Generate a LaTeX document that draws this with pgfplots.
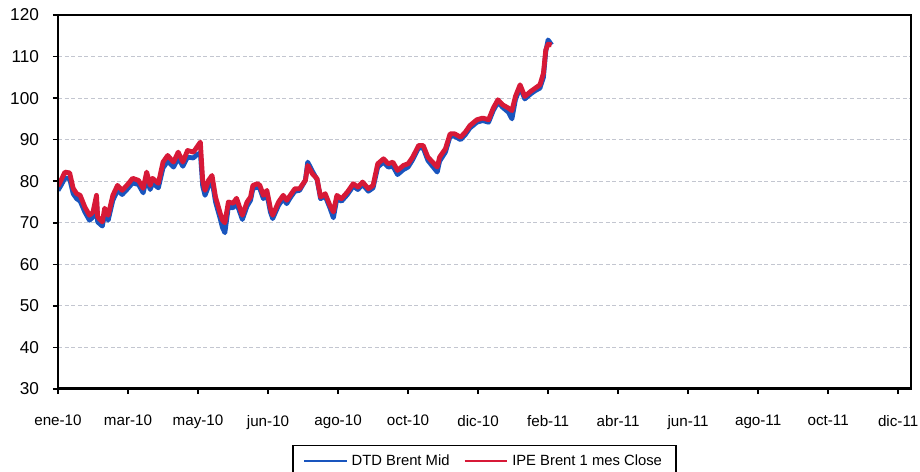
\documentclass[border=0pt]{standalone}
\usepackage{fontspec}
\setmainfont{Liberation Sans}
\usepackage{pgfplots}
\pgfplotsset{compat=1.18}
\definecolor{dtdblue}{RGB}{25,85,190}
\definecolor{ipered}{RGB}{215,25,55}
\definecolor{gridgray}{RGB}{195,198,208}

% days since 1 Jan 2010
\pgfplotstableread{
d v
0 77.8
3 79.2
6 80.8
10 80.6
13 77.0
16 75.8
19 75.2
23 72.6
27 70.6
30 71.4
33 75.2
34 70.2
38 69.2
40 72.4
43 70.6
47 75.4
51 77.8
55 76.8
59 78.0
64 79.6
69 79.2
73 77.2
76 80.8
79 78.0
81 79.6
86 78.4
90 83.2
94 84.8
99 83.4
103 85.6
107 83.6
111 85.8
116 85.6
119 86.4
122 86.8
124 78.8
126 76.6
129 78.8
132 80.2
135 75.0
139 71.0
141 68.8
143 67.6
146 73.8
150 73.6
153 74.8
158 70.8
162 74.0
165 75.4
167 78.2
171 78.6
173 78.2
176 75.8
179 77.0
182 72.6
184 71.0
189 74.2
193 75.8
196 74.6
199 76.0
203 77.6
207 77.8
212 80.2
214 84.6
218 82.4
222 80.4
225 75.8
229 76.4
233 73.6
236 71.2
239 75.8
243 75.2
248 76.8
253 78.8
257 78.0
261 79.2
266 77.6
270 78.4
274 83.4
279 84.6
283 83.4
287 83.6
291 81.6
296 82.8
300 83.4
304 85.2
309 88.0
313 88.0
317 85.0
321 83.6
325 82.2
327 84.8
332 87.0
336 90.8
340 90.8
345 90.0
349 91.2
353 92.8
359 94.2
364 94.6
369 94.2
373 97.0
377 99.0
381 97.8
386 96.6
389 95.0
392 99.6
396 102.6
400 99.8
405 101.0
409 101.8
413 102.4
416 105.0
418 111.2
420 114.0
423 112.8
}\dtd

\pgfplotstableread{
d v
0 78.8
3 80.5
6 82.2
10 82.0
13 78.3
16 77.0
19 76.6
23 73.8
27 71.8
30 72.6
33 76.6
34 71.4
38 70.2
40 73.5
43 71.8
47 76.6
51 79.0
55 77.8
59 79.0
64 80.7
69 80.2
73 78.3
76 82.2
79 79.0
81 80.7
86 79.5
90 84.6
94 86.2
99 84.6
103 87.0
107 84.6
111 87.4
116 87.0
119 88.2
122 89.4
124 80.2
126 77.8
129 80.2
132 81.4
135 76.2
139 72.3
141 70.6
143 70.0
146 75.0
150 74.7
153 75.9
158 71.8
162 75.0
165 76.2
167 79.0
171 79.4
173 79.0
176 76.6
179 77.8
182 73.5
184 71.8
189 75.0
193 76.6
196 75.4
199 76.6
203 78.2
207 78.2
212 80.2
214 83.8
218 81.8
222 80.6
225 76.2
229 77.0
233 74.2
236 72.6
239 76.6
243 75.8
248 77.4
253 79.4
257 78.6
261 79.8
266 78.2
270 79.0
274 84.2
279 85.4
283 84.2
287 84.6
291 82.6
296 83.8
300 84.2
304 85.8
309 88.6
313 88.6
317 85.8
321 84.6
325 83.4
327 85.8
332 87.8
336 91.4
340 91.4
345 90.6
349 91.8
353 93.4
359 94.8
364 95.2
369 94.8
373 97.6
377 99.6
381 98.4
386 97.6
389 97.0
392 100.4
396 103.2
400 100.4
405 101.6
409 102.4
413 103.2
416 106.0
418 111.6
420 113.0
423 112.8
}\ipe

\begin{document}
\begin{tikzpicture}
\begin{axis}[
    scale only axis,
    width=426.5pt,
    height=187pt,
    xmin=0, xmax=731,
    ymin=30, ymax=120,
    xtick={0,60,...,720},
    xticklabels={ene-10,mar-10,may-10,jun-10,ago-10,oct-10,dic-10,feb-11,abr-11,jun-11,ago-11,oct-11,dic-11},
    ytick={30,40,...,120},
    /pgf/number format/assume math mode=true,
    tick label style={font=\fontsize{8.6}{10}\selectfont},
    xticklabel style={font=\fontsize{7.6}{9}\selectfont, yshift=-7pt},
    yticklabel style={xshift=-3.5pt},
    tick align=outside,
    tick pos=left,
    major tick length=2.5pt,
    tick style={black, line width=0.8pt},
    axis line style={black, line width=1.1pt},
    ymajorgrids,
    major grid style={gridgray, line width=0.6pt, dash pattern=on 2pt off 1.3pt},
    legend style={
        at={(0.5,0)}, anchor=north, yshift=-28pt,
        draw=black, line width=0.6pt,
        legend columns=2,
        font=\fontsize{7.4}{9}\selectfont,
        inner ysep=2.5pt, inner xsep=5pt,
        /tikz/every even column/.append style={column sep=5pt},
    },
    legend image code/.code={\draw[#1, line width=1pt] (0cm,0cm) -- (0.75cm,0cm);},
]
\addplot[dtdblue, line width=2.4pt, line join=round] table[x=d, y=v] {\dtd};
\addlegendentry{DTD Brent Mid}
\addplot[ipered, line width=2.4pt, line join=round] table[x=d, y=v] {\ipe};
\addlegendentry{IPE Brent 1 mes Close}
\coordinate (bl) at (rel axis cs:0,0);
\coordinate (tr) at (rel axis cs:1,1);
\draw[black, line width=1.5pt] (rel axis cs:0,1) -- (rel axis cs:0,0) -- (rel axis cs:1,0);
\end{axis}
\pgfresetboundingbox
\path[use as bounding box] ([shift={(-29pt,-41.5pt)}]bl) rectangle ([shift={(4.5pt,7.5pt)}]tr);
\end{tikzpicture}
\end{document}
